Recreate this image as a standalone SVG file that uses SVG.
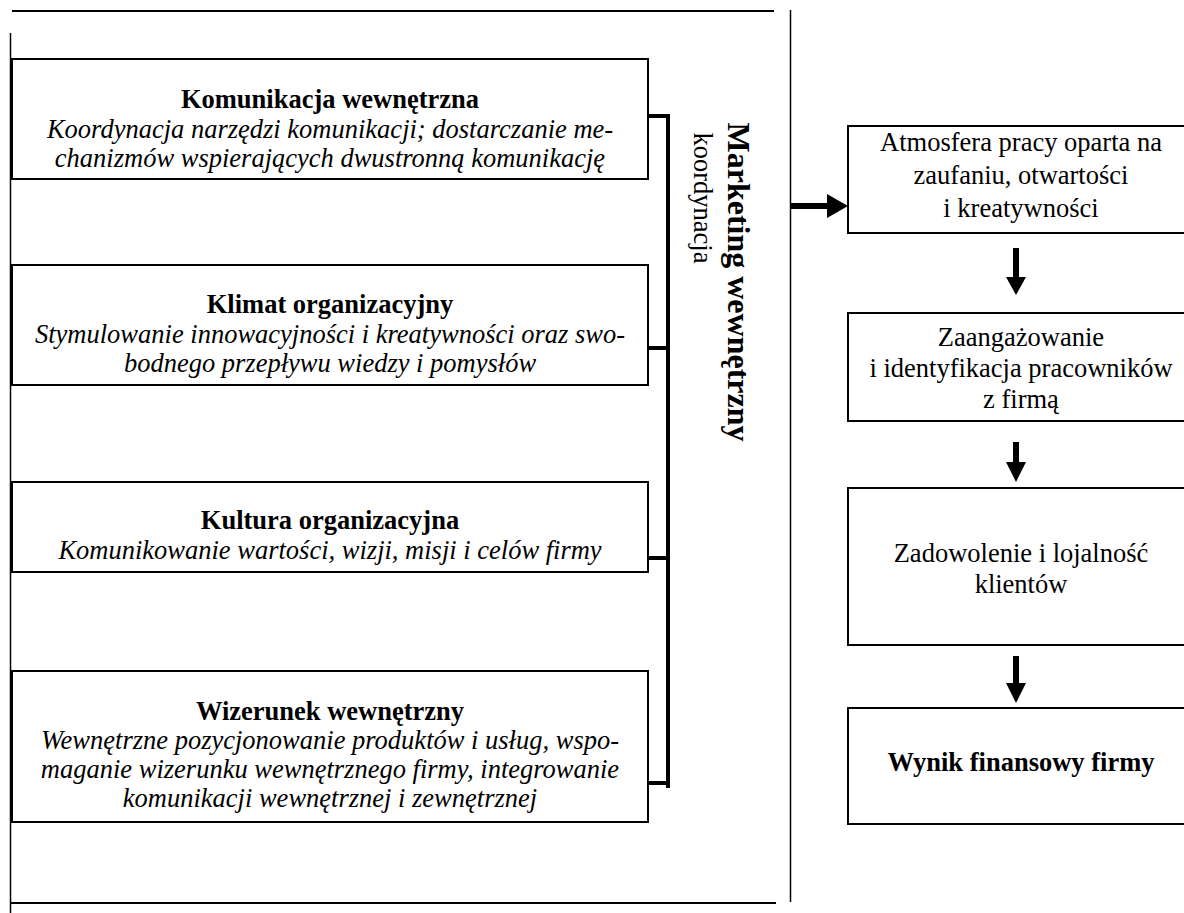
<svg xmlns="http://www.w3.org/2000/svg" width="1184" height="913" viewBox="0 0 1184 913">
  <style>
    .box { fill: #fff; stroke: #000; stroke-width: 2; }
    .frame { stroke: #000; fill: none; }
    .t { font-family: "Liberation Serif", "Times New Roman", serif; font-size: 26.5px; fill: #000; text-anchor: middle; }
    .b { font-weight: bold; }
    .i { font-style: italic; }
    .bracket { stroke: #000; stroke-width: 4; fill: none; }
    .shaft { stroke: #000; stroke-width: 6; }
    .head { fill: #000; }
  </style>

  <rect width="1184" height="913" fill="#fff"/>

  <!-- outer frame lines -->
  <g id="frame">
    <line class="frame" x1="12" y1="11" x2="774" y2="11" stroke-width="2"/>
    <line class="frame" x1="10.5" y1="33" x2="10.5" y2="913" stroke-width="1.5"/>
    <line class="frame" x1="790.5" y1="10" x2="790.5" y2="902" stroke-width="1.5"/>
    <line class="frame" x1="10" y1="903" x2="776" y2="903" stroke-width="2"/>
  </g>

  <!-- left column: components of internal marketing -->
  <g id="komunikacja">
    <rect class="box" x="12" y="59" width="636" height="120"/>
    <text class="t b" x="330" y="108">Komunikacja wewnętrzna</text>
    <text class="t i" x="330" y="138">Koordynacja narzędzi komunikacji; dostarczanie me-</text>
    <text class="t i" x="330" y="167">chanizmów wspierających dwustronną komunikację</text>
  </g>

  <g id="klimat">
    <rect class="box" x="12" y="265" width="636" height="120"/>
    <text class="t b" x="330" y="313">Klimat organizacyjny</text>
    <text class="t i" x="330" y="343">Stymulowanie innowacyjności i kreatywności oraz swo-</text>
    <text class="t i" x="330" y="372">bodnego przepływu wiedzy i pomysłów</text>
  </g>

  <g id="kultura">
    <rect class="box" x="12" y="482" width="636" height="90"/>
    <text class="t b" x="330" y="529">Kultura organizacyjna</text>
    <text class="t i" x="330" y="559">Komunikowanie wartości, wizji, misji i celów firmy</text>
  </g>

  <g id="wizerunek">
    <rect class="box" x="12" y="671" width="636" height="151"/>
    <text class="t b" x="330" y="720">Wizerunek wewnętrzny</text>
    <text class="t i" x="330" y="749">Wewnętrzne pozycjonowanie produktów i usług, wspo-</text>
    <text class="t i" x="330" y="778">maganie wizerunku wewnętrznego firmy, integrowanie</text>
    <text class="t i" x="330" y="807">komunikacji wewnętrznej i zewnętrznej</text>
  </g>

  <!-- vertical captions -->
  <g id="marketing">
    <text class="t b" transform="translate(728,282) rotate(90)" style="font-size:32px">Marketing wewnętrzny</text>
    <text class="t" transform="translate(694,198) rotate(90)">koordynacja</text>
  </g>

  <!-- right column: effects -->
  <g id="atmosfera">
    <rect class="box" x="848" y="126" width="346" height="107"/>
    <text class="t" x="1021" y="151">Atmosfera pracy oparta na</text>
    <text class="t" x="1021" y="184">zaufaniu, otwartości</text>
    <text class="t" x="1021" y="217">i kreatywności</text>
  </g>

  <g id="zaangazowanie">
    <rect class="box" x="848" y="313" width="346" height="108"/>
    <text class="t" x="1021" y="346">Zaangażowanie</text>
    <text class="t" x="1021" y="377">i identyfikacja pracowników</text>
    <text class="t" x="1021" y="408">z firmą</text>
  </g>

  <g id="zadowolenie">
    <rect class="box" x="848" y="488" width="346" height="157"/>
    <text class="t" x="1021" y="562">Zadowolenie i lojalność</text>
    <text class="t" x="1021" y="593">klientów</text>
  </g>

  <g id="wynik">
    <rect class="box" x="848" y="708" width="346" height="116"/>
    <text class="t b" x="1021" y="771">Wynik finansowy firmy</text>
  </g>

  <!-- connectors -->
  <g id="connectors">
    <path class="bracket" d="M648,116 H668 M648,348 H668 M648,558 H668 M648,783 H668 M668,114 V788"/>

    <line class="shaft" x1="791" y1="206" x2="829" y2="206"/>
    <polygon class="head" points="827,194 848,206 827,218"/>

    <line class="shaft" x1="1016" y1="248" x2="1016" y2="278"/>
    <polygon class="head" points="1006,277 1026,277 1016,295"/>

    <line class="shaft" x1="1016" y1="442" x2="1016" y2="463"/>
    <polygon class="head" points="1006,462 1026,462 1016,482"/>

    <line class="shaft" x1="1016" y1="656" x2="1016" y2="684"/>
    <polygon class="head" points="1006,683 1026,683 1016,703"/>
  </g>
</svg>
